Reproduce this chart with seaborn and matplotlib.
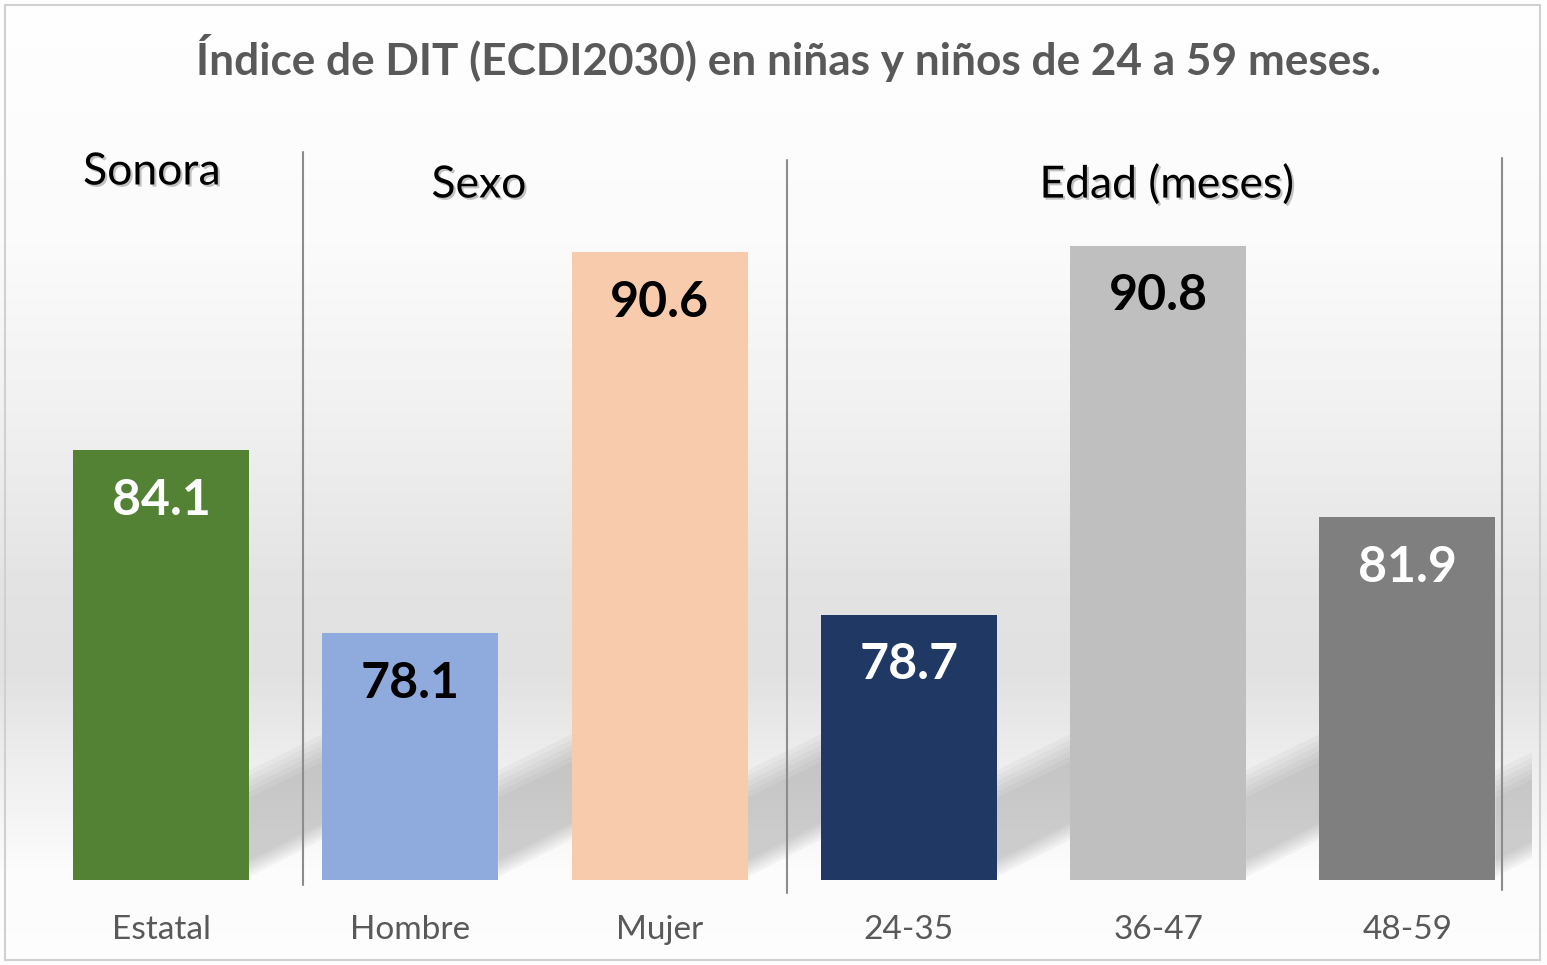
import numpy as np
import pandas as pd
import seaborn as sns
import matplotlib.pyplot as plt
import matplotlib.patheffects as pe
from matplotlib.patches import Rectangle, Polygon

# data
categories = ['Estatal', 'Hombre', 'Mujer', '24-35', '36-47', '48-59']
values = [84.1, 78.1, 90.6, 78.7, 90.8, 81.9]
bar_colors = ['#548235', '#8FAADC', '#F8CBAD', '#203864', '#BFBFBF', '#7F7F7F']
label_colors = ['white', 'black', 'black', 'white', 'black', 'white']
groups = ['Sonora', 'Sexo', 'Edad (meses)']
title = 'Índice de DIT (ECDI2030) en niñas y niños de 24 a 59 meses.'

sns.set_style('white')
plt.rcParams['font.family'] = ['Lato', 'DejaVu Sans']

W, H = 1547, 965
fig = plt.figure(figsize=(W / 100, H / 100), dpi=100)

# background gradient (grey band in the middle, white top and bottom)
bg = fig.add_axes([0, 0, 1, 1], zorder=-10)
stops_px = [0, 250, 400, 600, 670, 770, 870, 965]
stops_v = [0.995, 0.98, 0.945, 0.885, 0.88, 0.935, 0.985, 0.99]
ys = np.arange(H)
col = np.interp(ys, stops_px, stops_v)
grad = np.repeat(col[:, None], 10, axis=1)
bg.imshow(grad, cmap='gray', vmin=0, vmax=1, aspect='auto', extent=[0, 1, 1, 0])
bg.set_xlim(0, 1)
bg.set_ylim(1, 0)
bg.axis('off')

# outer frame
fig.patches.append(Rectangle((5 / W, 5 / H), 1 - 12 / W, 1 - 10 / H, transform=fig.transFigure,
                             fill=False, edgecolor='#d0d0d0', lw=1.5))

ax = fig.add_axes([36.4 / W, 1 - 880 / H, (1532 - 36.4) / W, (880 - 87) / H])
ax.patch.set_alpha(0)

df = pd.DataFrame({'cat': categories, 'val': values})
sns.barplot(data=df, x='cat', y='val', hue='cat', palette=bar_colors, legend=False,
            width=0.706, saturation=1, linewidth=0, ax=ax, zorder=3)
ax.set_ylim(70, 96)
ax.set_xlim(-0.5, len(categories) - 0.5)

bars = list(ax.patches)

# soft perspective shadows behind the bars
for p in bars:
    xr = p.get_x() + p.get_width()
    for k in range(6):
        d = 0.18 * k
        poly = Polygon([(xr, 70.1 + d * 0.6), (xr, 73.6 - d), (xr + 0.6, 76.0 - d), (xr + 0.6, 72.6 + d * 0.6)],
                       closed=True, facecolor='#707070', alpha=0.06, edgecolor='none', zorder=1)
        ax.add_patch(poly)

# value labels inside bars
for p, v, c in zip(bars, values, label_colors):
    ax.text(p.get_x() + p.get_width() / 2, v - 1.65, f'{v:.1f}', ha='center', va='center',
            fontsize=36, fontweight='bold', color=c, zorder=5)

sns.despine(ax=ax, left=True, bottom=True)
ax.set_yticks([])
ax.set_xlabel('')
ax.set_ylabel('')
ax.tick_params(axis='x', length=0, pad=25, labelsize=24, labelcolor='#595959')

# group separators
for xs, y0, y1 in [(303, 152, 885), (787, 160, 893), (1502, 158, 890)]:
    fig.add_artist(plt.Line2D([xs / W, xs / W], [1 - y0 / H, 1 - y1 / H], color='#8c8c8c', lw=1.5))

# group headers
shadow = [pe.SimplePatchShadow(offset=(1.5, -1.5), shadow_rgbFace='#888888', alpha=0.5), pe.Normal()]
for g, (gx, gy) in zip(groups, [(152, 172), (479, 185), (1167, 185)]):
    fig.text(gx / W, 1 - gy / H, g, ha='center', va='center', fontsize=32, color='black',
             path_effects=shadow)

fig.text(789 / W, 1 - 58 / H, title, ha='center', va='center', fontsize=31.8,
         fontweight='bold', color='#595959')

fig.savefig('out.png', dpi=100)
